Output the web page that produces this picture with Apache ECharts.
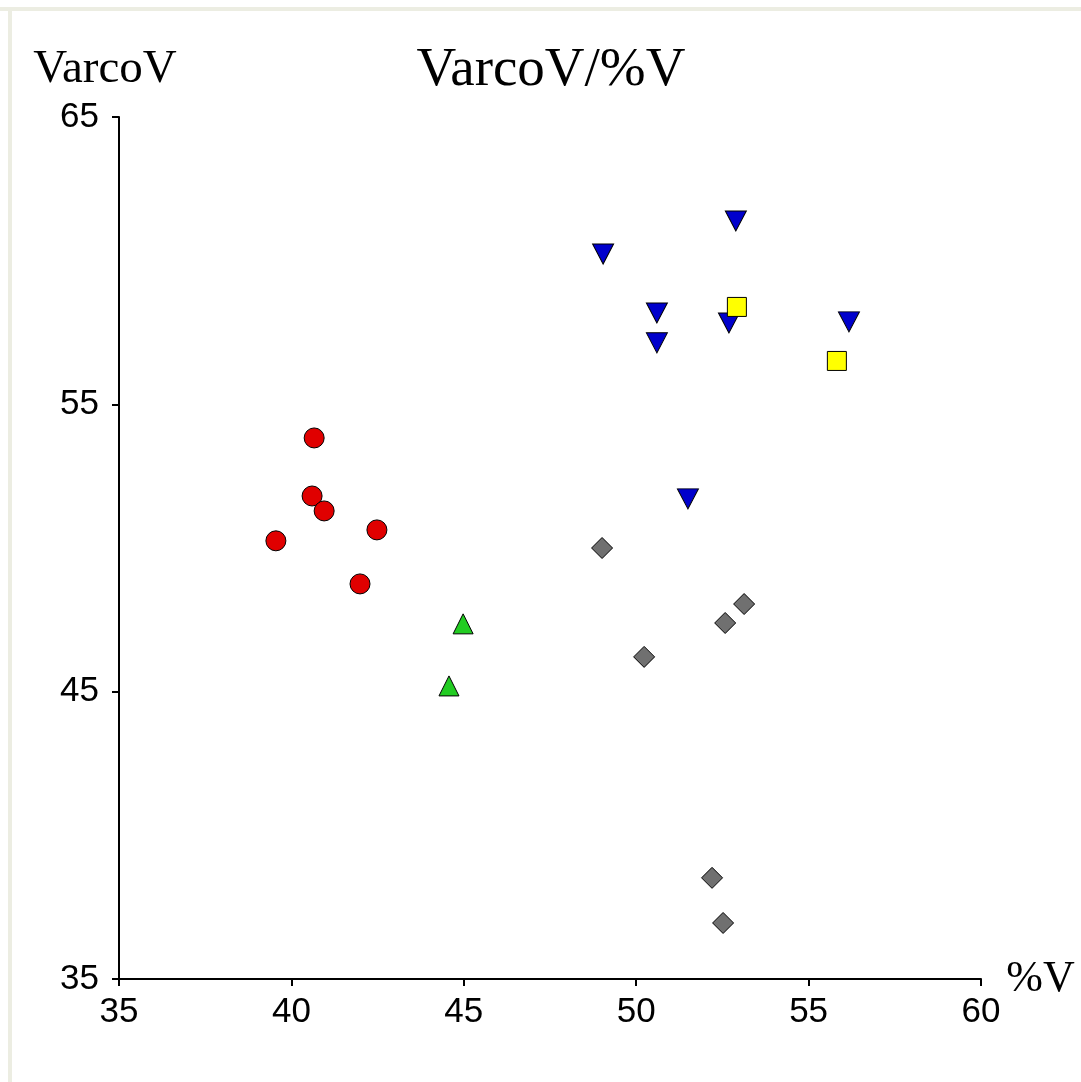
<!DOCTYPE html>
<html>
<head>
<meta charset="utf-8">
<script src="https://cdn.jsdelivr.net/npm/echarts@6/dist/echarts.min.js"></script>
<style>
html,body{margin:0;padding:0;background:#ffffff;}
#chart{width:1081px;height:1082px;}
</style>
</head>
<body>
<div id="chart"></div>
<script>
// Data: [%V, VarcoV]
const redCircles = [[40.66,53.83],[40.60,51.81],[40.95,51.29],[39.55,50.25],[42.48,50.63],[41.99,48.75]];
const greenTriangles = [[44.98,47.36],[44.57,45.20]];
const blueInvTriangles = [[52.89,61.38],[49.04,60.23],[50.60,58.18],[50.60,57.14],[52.69,57.83],[56.17,57.87],[51.50,51.71]];
const yellowSquares = [[52.92,58.39],[55.82,56.51]];
const grayDiamonds = [[49.01,50.00],[50.23,46.21],[52.58,47.39],[53.13,48.05],[52.20,38.52],[52.52,36.95]];
const xTicks = [35,60,5];
const yTicks = [35,65,10];
const titleText = 'VarcoV/%V';
const xName = '%V';
const yName = 'VarcoV';

const chart = echarts.init(document.getElementById('chart'), null, {renderer:'canvas'});
const serif = '"Liberation Serif", "DejaVu Serif", serif';
const sans = '"Liberation Sans", "DejaVu Sans", sans-serif';
function sc(name, data, symbol, size, color, rotate){
  return {name, type:'scatter', data, symbol, symbolSize:size, symbolRotate:rotate||0,
    itemStyle:{color, borderColor:'#000', borderWidth:1, opacity:1},
    emphasis:{disabled:true}};
}
chart.setOption({
  backgroundColor:'#ffffff',
  animation:false,
  title:{text:titleText, left:546, textAlign:'center', top:38,
    textStyle:{fontFamily:serif, fontSize:55, fontWeight:'normal', color:'#000'}},
  graphic:[
    {type:'rect', shape:{x:0,y:7,width:1081,height:4}, style:{fill:'#ecede2'}, silent:true},
    {type:'rect', shape:{x:8,y:7,width:4,height:1075}, style:{fill:'#ecede2'}, silent:true}
  ],
  grid:{left:119, top:117, right:100, bottom:103, containLabel:false},
  xAxis:{type:'value', min:xTicks[0], max:xTicks[1], interval:xTicks[2],
    name:xName, nameLocation:'end', nameGap:22,
    nameTextStyle:{fontFamily:serif, fontSize:44, color:'#000', verticalAlign:'middle', padding:[0,0,14,0]},
    axisLine:{show:true, onZero:false, lineStyle:{color:'#000', width:2}},
    axisTick:{show:true, inside:false, length:7, lineStyle:{color:'#000', width:2}},
    axisLabel:{fontFamily:sans, fontSize:35, color:'#000', margin:16},
    splitLine:{show:false}},
  yAxis:{type:'value', min:yTicks[0], max:yTicks[1], interval:yTicks[2],
    name:yName, nameLocation:'end', nameGap:24,
    nameTextStyle:{fontFamily:serif, fontSize:47, color:'#000', align:'center', padding:[0,28,0,0]},
    axisLine:{show:true, onZero:false, lineStyle:{color:'#000', width:2}},
    axisTick:{show:true, inside:false, length:7, lineStyle:{color:'#000', width:2}},
    axisLabel:{fontFamily:sans, fontSize:35, color:'#000', margin:20},
    splitLine:{show:false}},
  series:[
    sc('red', redCircles, 'circle', 20, '#e00000'),
    sc('green', greenTriangles, 'triangle', [20,20], '#22cc22'),
    sc('blue', blueInvTriangles, 'triangle', [21,20], '#0000cc', 180),
    sc('yellow', yellowSquares, 'rect', 19, '#ffff00'),
    sc('gray', grayDiamonds, 'diamond', 21, '#707070')
  ]
});
</script>
</body>
</html>
